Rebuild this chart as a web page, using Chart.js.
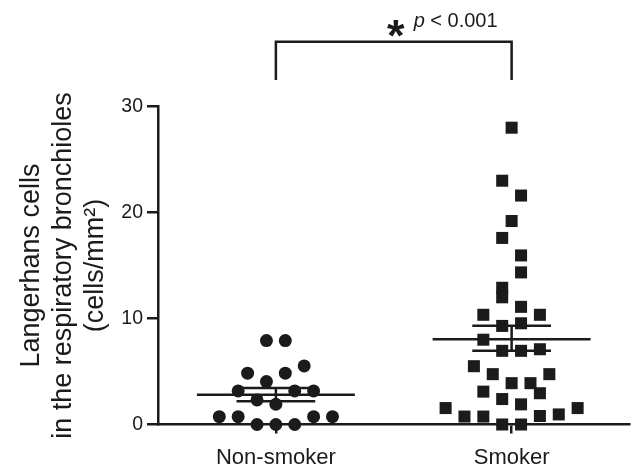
<!DOCTYPE html>
<html>
<head>
<meta charset="utf-8">
<script src="https://cdn.jsdelivr.net/npm/chart.js@4.4.1/dist/chart.umd.min.js"></script>
<style>
  html, body { margin: 0; padding: 0; background: #fff; }
  #wrap { width: 638px; height: 472px; }
</style>
</head>
<body>
<div id="wrap"><canvas id="chart" width="638" height="472"></canvas></div>
<script>
// ── Data ───────────────────────────────────────────────────────────
const groups = ['Non-smoker', 'Smoker'];
const groupPos = [1, 2];

// Non-smoker: x = category position incl. scatter spread, y = cells/mm²
const nonSmokerX = [0.96, 1.04, 1.12, 0.88, 1.04, 0.96, 0.84, 1.08, 1.16, 0.92, 1.00, 0.76, 0.84, 1.16, 1.24, 0.92, 1.00, 1.08];
const nonSmokerY = [7.92, 7.92, 5.53, 4.84, 4.84, 4.05, 3.17, 3.17, 3.17, 2.32, 1.91, 0.74, 0.74, 0.74, 0.74, 0, 0, 0];

const smokerX = [2.00, 1.96, 2.04, 2.00, 1.96, 2.04, 2.04, 1.96, 1.96, 2.04, 1.88, 2.12, 1.96, 2.04, 1.88, 1.96, 2.04, 2.12,
                 1.84, 1.92, 2.16, 2.00, 2.08, 1.88, 2.12, 1.96, 2.04, 1.72, 2.28, 1.80, 1.88, 2.12, 2.20, 1.96, 2.04];
const smokerY = [28.0, 23.0, 21.6, 19.2, 17.6, 15.95, 14.35, 12.9, 12.0, 11.1, 10.35, 10.35, 9.3, 9.55, 8.0, 6.95, 6.95, 7.1,
                 5.5, 4.75, 4.75, 3.9, 3.9, 3.1, 2.95, 2.4, 1.9, 1.55, 1.55, 0.75, 0.75, 0.8, 0.95, 0, 0];

// mean ± SEM as drawn
const groupMean = [2.8, 8.05];
const semLow = [2.2, 6.95];
const semHigh = [3.45, 9.31];

const yTicks = [0, 10, 20, 30];
const yTitle = ['Langerhans cells', 'in the respiratory bronchioles', '(cells/mm²)'];

// significance bracket (in y units)
const bracketTop = 36.1;
const bracketFoot = 32.5;
const sigLabel = '< 0.001';

// ── Build datasets ────────────────────────────────────────────────
const INK = '#1b1b1b';
const FONT = '"Liberation Sans", Arial, sans-serif';
const MEAN_HALF = 0.335;
const SEM_HALF = 0.167;

function segment(x0, y0, x1, y1) {
  return {
    type: 'line', data: [{ x: x0, y: y0 }, { x: x1, y: y1 }],
    borderColor: INK, borderWidth: 2.5, pointRadius: 0, showLine: true, fill: false, tension: 0,
  };
}

const lineSets = [];
groupPos.forEach((gx, i) => {
  lineSets.push(segment(gx - MEAN_HALF, groupMean[i], gx + MEAN_HALF, groupMean[i]));
  lineSets.push(segment(gx - SEM_HALF, semHigh[i], gx + SEM_HALF, semHigh[i]));
  lineSets.push(segment(gx - SEM_HALF, semLow[i], gx + SEM_HALF, semLow[i]));
  lineSets.push(segment(gx, semLow[i], gx, semHigh[i]));
});

const bracket = {
  type: 'line',
  data: [
    { x: groupPos[0], y: bracketFoot }, { x: groupPos[0], y: bracketTop },
    { x: groupPos[1], y: bracketTop }, { x: groupPos[1], y: bracketFoot },
  ],
  borderColor: INK, borderWidth: 2.5, pointRadius: 0, showLine: true, fill: false, tension: 0, clip: false,
};

// star + p-value above the bracket
const sigText = {
  id: 'sigText',
  afterDraw(chart) {
    const { ctx, scales: { x, y } } = chart;
    const cx = x.getPixelForValue((groupPos[0] + groupPos[1]) / 2);
    const cy = y.getPixelForValue(bracketTop) - 14.5;
    ctx.save();
    ctx.fillStyle = INK;
    ctx.textBaseline = 'alphabetic';
    ctx.textAlign = 'center';
    ctx.font = 'bold 45px ' + FONT;
    ctx.fillText('*', cx + 2, cy + 24);
    ctx.textAlign = 'left';
    ctx.font = 'italic 20px ' + FONT;
    ctx.fillText('p', cx + 20, cy);
    ctx.font = '20px ' + FONT;
    ctx.fillText(' ' + sigLabel, cx + 31, cy);
    ctx.restore();
  },
};

new Chart(document.getElementById('chart'), {
  type: 'scatter',
  data: {
    datasets: [
      ...lineSets,
      bracket,
      {
        label: groups[0],
        data: nonSmokerX.map((v, i) => ({ x: v, y: nonSmokerY[i] })),
        pointStyle: 'circle', pointRadius: 6.5, pointHoverRadius: 6.5,
        backgroundColor: INK, borderWidth: 0, clip: false,
      },
      {
        label: groups[1],
        data: smokerX.map((v, i) => ({ x: v, y: smokerY[i] })),
        pointStyle: 'rect', pointRadius: 8.5, pointHoverRadius: 8.5,
        backgroundColor: INK, borderWidth: 0, clip: false,
      },
    ],
  },
  options: {
    responsive: false, animation: false, devicePixelRatio: 1,
    layout: { padding: { top: 106.5, right: 1.5, left: 0, bottom: 0 } },
    plugins: { legend: { display: false }, tooltip: { enabled: false } },
    scales: {
      x: {
        type: 'linear', min: 0.5, max: 2.5,
        afterBuildTicks: s => { s.ticks = groupPos.map(v => ({ value: v })); },
        afterFit: s => { s.height = 47.5; },
        ticks: {
          autoSkip: false, color: INK, padding: 11,
          font: { family: FONT, size: 22 },
          callback: v => groups[groupPos.indexOf(v)] ?? '',
        },
        grid: { drawOnChartArea: false, drawTicks: true, tickLength: 9, color: INK, lineWidth: 2.5 },
        border: { display: true, color: INK, width: 2.5 },
      },
      y: {
        min: 0, max: 30,
        afterBuildTicks: s => { s.ticks = yTicks.map(v => ({ value: v })); },
        afterFit: s => { s.width = 158; },
        ticks: {
          color: INK, padding: 4,
          font: { family: FONT, size: 19.5 },
        },
        grid: { drawOnChartArea: false, drawTicks: true, tickLength: 11, color: INK, lineWidth: 2.5 },
        border: { display: true, color: INK, width: 2.5 },
        title: {
          display: true, text: yTitle, color: INK, padding: { top: 15, bottom: 0 },
          font: { family: FONT, size: 27, lineHeight: 1.2 },
        },
      },
    },
  },
  plugins: [sigText],
});
</script>
</body>
</html>
